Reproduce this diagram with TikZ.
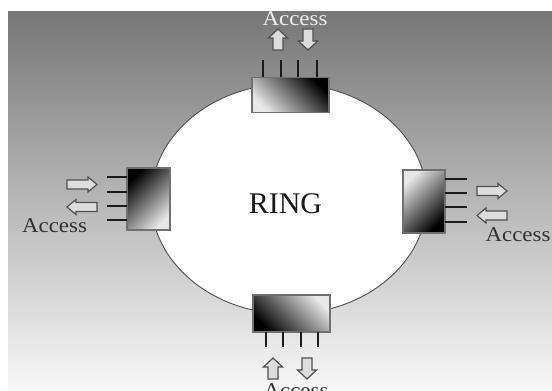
\documentclass[tikz,border=0pt]{standalone}
\usepackage{fontspec}
\usetikzlibrary{shapes.geometric}
\setmainfont{Liberation Serif}
\definecolor{bgtop}{HTML}{767676}
\definecolor{bgbot}{HTML}{F8F8F8}
\definecolor{ringline}{HTML}{505050}
\definecolor{boxline}{HTML}{707070}
\definecolor{boxlight}{HTML}{E8E8E8}
\definecolor{pincol}{HTML}{1A1A1A}
\definecolor{arrline}{HTML}{505050}
\definecolor{arrfill}{HTML}{DDDDDD}
\definecolor{txtdark}{HTML}{303030}
\definecolor{txtlight}{HTML}{EEEEEE}
\tikzset{
  unit/.style={x=1pt,y=-1pt},
  station/.style={draw=boxline, line width=1.3pt, rectangle, inner sep=0pt},
  pin/.style={draw=pincol, line width=1.8pt},
  acc/.style={font=\fontsize{21}{21}\selectfont, xscale=1.09, inner sep=0pt, anchor=base},
  pics/harrow/.style={code={
    \draw[draw=arrline, fill=arrfill, line width=1.2pt, line join=miter]
      (-15,-4.5) -- (6,-4.5) -- (6,-7.5) -- (15,0) -- (6,7.5) -- (6,4.5) -- (-15,4.5) -- cycle;}},
  pics/varrow/.style={code={
    \draw[draw=arrline, fill=arrfill, line width=1.2pt, line join=miter]
      (-5,10.5) -- (-5,-1.5) -- (-9.5,-1.5) -- (0,-10.5) -- (9.5,-1.5) -- (5,-1.5) -- (5,10.5) -- cycle;}}
}
\begin{document}
\begin{tikzpicture}[unit]
\useasboundingbox (0,0) rectangle (552,391);
\clip (0,0) rectangle (552,391);
% background
\shade[top color=bgtop, bottom color=bgbot] (8,11) rectangle (552,391);
% ring
\node[ellipse, draw=ringline, fill=white, line width=0.9pt, minimum width=276pt, minimum height=230pt, inner sep=0pt] (ring) at (289,199) {};
\node[font=\fontsize{30}{30}\selectfont, text=black!90, inner sep=0pt, anchor=base] (ringlbl) at (285.5,213) {RING};
% stations
\node[station, minimum width=77pt, minimum height=35pt, top color=black, bottom color=boxlight, shading angle=-45] (top) at (290.5,95) {};
\node[station, minimum width=77pt, minimum height=37pt, top color=black, bottom color=boxlight, shading angle=135] (bot) at (291.5,313.5) {};
\node[station, minimum width=43pt, minimum height=62pt, top color=black, bottom color=boxlight, shading angle=45] (lft) at (148.5,199) {};
\node[station, minimum width=42pt, minimum height=63pt, top color=black, bottom color=boxlight, shading angle=-135] (rgt) at (424,201.5) {};
% pins
\foreach \px in {263,281,298,317} \draw[pin] (\px,77) -- (\px,60);
\foreach \px in {266,283,301,318} \draw[pin] (\px,332) -- (\px,347);
\foreach \py in {177,192,206,220} \draw[pin] (127,\py) -- (107,\py);
\foreach \py in {179,193,207,222} \draw[pin] (445,\py) -- (467,\py);
% access arrows
\pic (tu) at (278,39.5) {varrow};
\pic[rotate=180] (td) at (308,39.5) {varrow};
\pic (bu) at (273,368.5) {varrow};
\pic[rotate=180] (bd) at (307,368.5) {varrow};
\pic (lr) at (82,184.5) {harrow};
\pic[rotate=180] (ll) at (82,207) {harrow};
\pic (rr) at (492,191) {harrow};
\pic[rotate=180] (rl) at (492,215.5) {harrow};
% labels
\node[acc, text=txtlight] (acct) at (295,25) {Access};
\node[acc, text=txtdark] (accl) at (54.5,232) {Access};
\node[acc, text=txtdark] (accr) at (518,241) {Access};
\node[acc, text=txtdark] (accb) at (296,397) {Access};
\end{tikzpicture}
\end{document}
